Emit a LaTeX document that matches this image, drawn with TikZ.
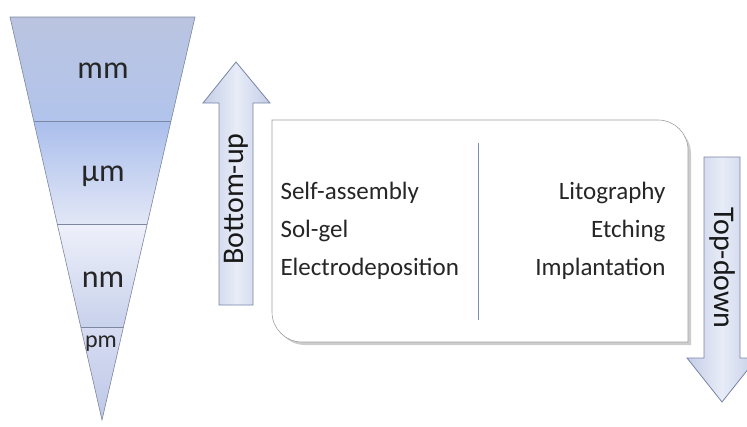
\documentclass[tikz,border=0pt]{standalone}
\usepackage{fontspec}
\setmainfont{Carlito}
\usetikzlibrary{calc}
\definecolor{bandedge}{RGB}{125,135,160}
\definecolor{arrowedge}{RGB}{120,132,168}
\definecolor{arrowside}{RGB}{196,206,230}
\definecolor{arrowmid}{RGB}{232,236,248}
\definecolor{boxedge}{RGB}{160,160,160}
\definecolor{splitline}{RGB}{120,140,185}
\begin{document}
\begin{tikzpicture}[x=1pt, y=-1pt,
  scalelabel/.style={text=black!85, font=\fontsize{32}{36}\selectfont},
  methodtext/.style={text=black!85, font=\fontsize{25}{30}\selectfont},
  arrowtext/.style={text=black!90, font=\fontsize{30}{34}\selectfont},
  bigarrow/.style={draw=arrowedge, line width=0.8pt, left color=arrowside, right color=arrowside, middle color=arrowmid}]
\clip (0, 0) rectangle (747, 426);

\coordinate (tl) at (10, 17);
\coordinate (tr) at (195, 17);
\coordinate (tip) at (102, 420);

\shade [top color={rgb,255:red,186;green,196;blue,224}, bottom color={rgb,255:red,178;green,196;blue,236}]
  (tl) -- (tr) -- ($(tr)!0.258!(tip)$) -- ($(tl)!0.258!(tip)$) -- cycle;
\shade [top color={rgb,255:red,170;green,190;blue,236}, bottom color={rgb,255:red,226;green,231;blue,246}]
  ($(tl)!0.258!(tip)$) -- ($(tr)!0.258!(tip)$) -- ($(tr)!0.514!(tip)$) -- ($(tl)!0.514!(tip)$) -- cycle;
\shade [top color={rgb,255:red,238;green,240;blue,250}, bottom color={rgb,255:red,200;green,210;blue,236}]
  ($(tl)!0.514!(tip)$) -- ($(tr)!0.514!(tip)$) -- ($(tr)!0.769!(tip)$) -- ($(tl)!0.769!(tip)$) -- cycle;
\shade [top color={rgb,255:red,214;green,220;blue,242}, bottom color={rgb,255:red,190;green,200;blue,230}]
  ($(tl)!0.769!(tip)$) -- ($(tr)!0.769!(tip)$) -- (tip) -- cycle;
\draw [bandedge, line width=0.6pt] (tl) -- (tr) -- (tip) -- cycle;
\draw [bandedge, line width=0.6pt] ($(tl)!0.258!(tip)$) -- ($(tr)!0.258!(tip)$);
\draw [bandedge, line width=0.6pt] ($(tl)!0.514!(tip)$) -- ($(tr)!0.514!(tip)$);
\draw [bandedge, line width=0.6pt] ($(tl)!0.769!(tip)$) -- ($(tr)!0.769!(tip)$);

\node [scalelabel] (mm) at (103, 71) {mm};
\node [scalelabel] (um) at (103, 176) {µm};
\node [scalelabel] (nm) at (103, 280) {nm};
\node [scalelabel, font=\fontsize{24}{28}\selectfont] (pm) at (101, 344) {pm};

\draw [bigarrow] (219, 305) -- (219, 103) -- (203, 103) -- (236, 62) -- (270, 103) -- (253, 103) -- (253, 305) -- cycle;
\node [arrowtext, rotate=90] (bottomup) at (236, 199) {Bottom-up};

\fill [gray!40] (275, 124) -- (661, 124) arc [start angle=-90, end angle=0, radius=30] -- (691, 345) -- (305, 345) arc [start angle=90, end angle=180, radius=30] -- cycle;
\draw [boxedge, fill=white, line width=0.6pt] (272, 120) -- (658, 120) arc [start angle=-90, end angle=0, radius=30] -- (688, 342) -- (302, 342) arc [start angle=90, end angle=180, radius=30] -- cycle;
\draw [splitline, line width=0.8pt] (478, 143) -- (478, 320);

\node [methodtext, anchor=west] (selfassembly) at (277, 193) {Self-assembly};
\node [methodtext, anchor=west] (solgel) at (277, 231) {Sol-gel};
\node [methodtext, anchor=west] (electro) at (277, 269) {Electrodeposition};
\node [methodtext, anchor=east] (litography) at (669, 193) {Litography};
\node [methodtext, anchor=east] (etching) at (669, 231) {Etching};
\node [methodtext, anchor=east] (implantation) at (669, 269) {Implantation};

\draw [bigarrow] (704, 157) -- (740, 157) -- (740, 358) -- (757, 358) -- (722, 402) -- (687, 358) -- (704, 358) -- cycle;
\node [arrowtext, rotate=-90] (topdown) at (722, 268) {Top-down};
\end{tikzpicture}
\end{document}
